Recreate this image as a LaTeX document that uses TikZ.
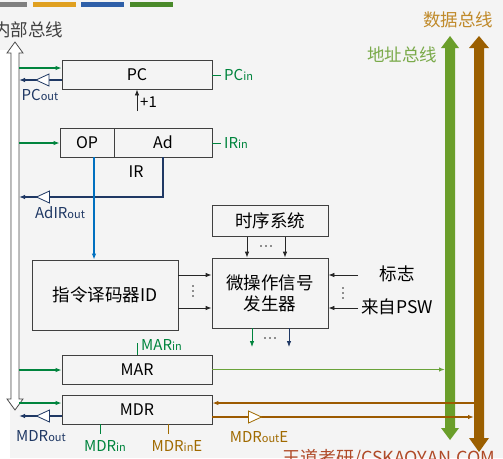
\documentclass[tikz,border=0pt]{standalone}
\usepackage{fontspec}
\setmainfont{Noto Sans CJK SC}
\usetikzlibrary{arrows.meta,calc}
\definecolor{dg}{HTML}{00843D}
\definecolor{nv}{HTML}{1F3864}
\definecolor{lb}{HTML}{0070C0}
\definecolor{ag}{HTML}{6AA33A}
\definecolor{agbus}{HTML}{6A9E2A}
\definecolor{br}{HTML}{9C5A00}
\definecolor{brbus}{HTML}{9B5F00}
\definecolor{gold}{HTML}{C08A2A}
\definecolor{dgold}{HTML}{A06A00}
\definecolor{agtxt}{HTML}{7AAA4A}
\definecolor{wm}{HTML}{B04A28}
\definecolor{bgc}{HTML}{F4F4F4}
\definecolor{st1}{HTML}{808080}
\definecolor{st2}{HTML}{E0A020}
\definecolor{st3}{HTML}{2E5FA8}
\definecolor{st4}{HTML}{4A8A2A}
\newcommand\lblx[2]{{\fontsize{15}{15}\selectfont #1}{\fontsize{11}{11}\selectfont #2}}
\newcommand\cjkx{\fontsize{17.5}{21}\selectfont}
\begin{document}
\begin{tikzpicture}[x=1pt,y=-1pt,
  box/.style={draw=black!75,line width=0.8pt,inner sep=0pt,font=\fontsize{16}{16}\selectfont},
  tipa/.style={-{Latex[length=6pt,width=4.5pt]}},
  ga/.style={dg,line width=1.3pt,tipa},
  na/.style={nv,line width=1.3pt,tipa},
  ka/.style={black!85,line width=0.8pt,tipa},
  tick/.style={line width=0.8pt},
  bufl/.pic={\draw[line width=.8pt,fill=white] (6.5,-6) -- (6.5,6) -- (-6.5,0) -- cycle;},
  bufr/.pic={\draw[line width=.8pt,fill=white] (-6.5,-6) -- (-6.5,6) -- (6.5,0) -- cycle;},
  dot/.style={fill=black!85,circle,inner sep=0pt,minimum size=1.8pt}
]
\clip (0,0) rectangle (503,458);
\fill[bgc] (0,0) rectangle (503,458);
\fill[white] (0,50) rectangle (10,458);
% top stripes
\fill[st1] (0,2) rectangle (27,7);
\fill[st2] (33,2) rectangle (76,7);
\fill[st3] (81,2) rectangle (124,7);
\fill[st4] (130,2) rectangle (173,7);

% internal bus label
\node[anchor=west,inner sep=0pt,text=black!75,font=\cjkx] (ibl) at (-7,30) {内部总线};
% internal bus (hollow double arrow)
\draw[fill=white,draw=black!70,line width=0.8pt]
  (15,42) -- (23,53) -- (19,53) -- (19,399) -- (23,399) -- (15,410)
  -- (7,399) -- (11,399) -- (11,53) -- (7,53) -- cycle;
\coordinate (ib) at (19,0);

% system buses
\fill[agbus] (450,36) -- (459,48) -- (455,48) -- (455,428) -- (459,428) -- (450,440)
  -- (441,428) -- (445,428) -- (445,48) -- (441,48) -- cycle;
\fill[brbus] (479,36) -- (489,48) -- (484,48) -- (484,438) -- (489,438) -- (479,452)
  -- (469,438) -- (474,438) -- (474,48) -- (469,48) -- cycle;
\coordinate (abus) at (445,0);
\coordinate (dbus) at (474,0);
\node[text=gold,font=\cjkx,inner sep=0pt] (dbl) at (458,20) {数据总线};
\node[text=agtxt,font=\cjkx,inner sep=0pt] (abl) at (402,55) {地址总线};

% boxes
\node[box,minimum width=150pt,minimum height=29pt] (PC) at (137,74.5) {PC};
\node[box,minimum width=54pt,minimum height=29pt] (OP) at (87,142.5) {OP};
\node[box,minimum width=98pt,minimum height=29pt] (Ad) at (163,142.5) {Ad};
\node[inner sep=0pt,font=\fontsize{16}{16}\selectfont] (IR) at (136,172) {IR};
\node[box,minimum width=146pt,minimum height=70pt,font=\cjkx] (ID) at (105,295) {指令译码器ID};
\node[box,minimum width=116pt,minimum height=31pt,font=\cjkx] (Tim) at (270,221) {时序系统};
\node[box,minimum width=116pt,minimum height=70pt,font=\cjkx,align=center] (Mic) at (270,293) {微操作信号\\发生器};
\node[box,minimum width=150pt,minimum height=29pt] (MAR) at (137,369.5) {MAR};
\node[box,minimum width=150pt,minimum height=29pt] (MDR) at (137,409.5) {MDR};

% PC
\draw[ga] (ib |- 0,68) -- (PC.west |- 0,68);
\draw[na] (PC.west |- 0,80) -- (ib |- 0,80);
\pic[nv] at (42.5,80) {bufl};
\node[text=nv,inner sep=0pt] (pcout) at (40,95) {\lblx{PC}{out}};
\draw[dg,tick] (PC.east |- 0,75) -- (221,75);
\node[text=dg,anchor=west,inner sep=0pt] (pcin) at (224,75) {\lblx{PC}{in}};
\coordinate (p1) at (137,111);
\draw[ka] (p1) -- (PC.south -| p1);
\node[anchor=west,inner sep=0pt,font=\fontsize{15}{15}\selectfont] (plus) at (140,102) {+1};

% IR
\draw[ga] (ib |- 0,143) -- (OP.west |- 0,143);
\draw[dg,tick] (Ad.east |- 0,143) -- (221,143);
\node[text=dg,anchor=west,inner sep=0pt] (irin) at (224,143) {\lblx{IR}{in}};
\draw[na] (Ad.south) |- (ib |- 0,197);
\pic[nv] at (43,197) {bufl};
\node[text=nv,inner sep=0pt] (adirout) at (60,213) {\lblx{AdIR}{out}};
\draw[lb,line width=1.3pt,tipa] ([xshift=7pt]OP.south) -- ([xshift=7pt]OP.south |- ID.north);

% control unit
\draw[ka] (Tim.south -| 247,0) -- (Mic.north -| 247,0);
\draw[ka] (Tim.south -| 285,0) -- (Mic.north -| 285,0);
\foreach \xx in {261,266,271} \node[dot] at (\xx,246) {};
\draw[ka] (ID.east |- 0,275) -- (Mic.west |- 0,275);
\draw[ka] (ID.east |- 0,308) -- (Mic.west |- 0,308);
\foreach \yy in {286,291,296} \node[dot] at (193,\yy) {};
\coordinate (f1) at (358,275);
\coordinate (f2) at (358,308);
\draw[ka] (f1) -- (Mic.east |- f1);
\draw[ka] (f2) -- (Mic.east |- f2);
\foreach \yy in {288,293,298} \node[dot] at (343,\yy) {};
\node[font=\cjkx,inner sep=0pt] (flag) at (397,274) {标志};
\node[font=\cjkx,inner sep=0pt] (psw) at (397,307) {来自PSW};
\coordinate (o1) at (252,347);
\coordinate (o2) at (289,347);
\draw[dg,line width=0.8pt,tipa] (Mic.south -| o1) -- (o1);
\draw[nv,line width=0.8pt,tipa] (Mic.south -| o2) -- (o2);
\foreach \xx in {265,270,275} \node[dot] at (\xx,338) {};

% MAR
\draw[ga] (ib |- 0,370) -- (MAR.west |- 0,370);
\draw[dg,tick] (137,343) -- (MAR.north);
\node[text=dg,anchor=west,inner sep=0pt] (marin) at (141,345) {\lblx{MAR}{in}};
\draw[ag,line width=1.3pt,tipa] (MAR.east) -- (abus |- MAR.east);

% MDR
\draw[ga] (ib |- 0,403) -- (MDR.west |- 0,403);
\draw[na] (MDR.west |- 0,416) -- (ib |- 0,416);
\pic[nv] at (43,416) {bufl};
\node[text=nv,inner sep=0pt] (mdrout) at (41,436) {\lblx{MDR}{out}};
\draw[dg,tick] (MDR.south -| 100,0) -- (100,434);
\node[text=dg,inner sep=0pt] (mdrin) at (105,446) {\lblx{MDR}{in}};
\draw[dgold,tick] (MDR.south -| 168,0) -- (168,434);
\node[text=dgold,inner sep=0pt] (mdrine) at (177,446) {\lblx{MDR}{in}{\fontsize{15}{15}\selectfont E}};
\draw[br,line width=1.3pt,tipa] (dbus |- 0,403) -- (MDR.east |- 0,403);
\draw[br,line width=1.3pt,tipa] (MDR.east |- 0,417) -- (dbus |- 0,417);
\pic[dgold] at (255,417) {bufr};
\node[text=dgold,inner sep=0pt] (mdroute) at (259,437) {\lblx{MDR}{out}{\fontsize{15}{15}\selectfont E}};

% watermark
\node[text=wm,anchor=north west,inner sep=0pt,font=\fontsize{18}{18}\selectfont] (wmk) at (282,449) {王道考研/CSKAOYAN.COM};
\end{tikzpicture}
\end{document}
